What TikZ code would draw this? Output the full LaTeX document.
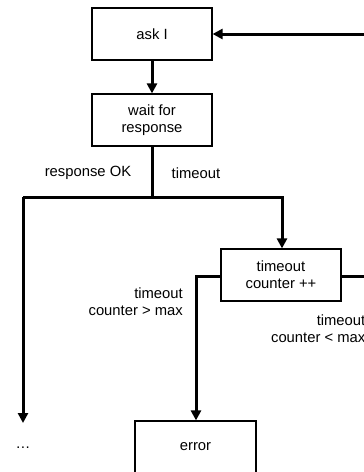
\documentclass[tikz,border=0pt]{standalone}
\usepackage{fontspec}
\setmainfont{Liberation Sans}
\usetikzlibrary{arrows.meta}
\begin{document}
\begin{tikzpicture}[x=1pt,y=-1pt,
  box/.style={draw, line width=1.2pt, minimum width=120pt, minimum height=52pt, inner sep=0pt, align=center, font=\fontsize{14.8}{17}\selectfont},
  lbl/.style={inner sep=0pt, font=\fontsize{14.8}{17}\selectfont},
  conn/.style={line width=3pt, -{Triangle[length=10pt,width=10pt]}},
  plain/.style={line width=3pt}]
\useasboundingbox (0,0) rectangle (364,472);
\node[box] (ask) at (152,34) {ask I};
\node[box] (wait) at (152,120) {wait for\\response};
\node[box] (cnt) at (281,275) {timeout\\counter ++};
\node[box, minimum width=121pt] (err) at (195.5,447) {error};
\coordinate (split) at (152,197);
\coordinate (sl) at (23,197);
\coordinate (sr) at (282,197);
\coordinate (ok) at (23,423);
\coordinate (cl) at (196,276);
\coordinate (cr) at (370,276);
\coordinate (crt) at (370,34);
\draw[plain] (wait.south) -- (split);
\draw[conn] (sl) -- (sr) -- (sr |- cnt.north);
\draw[conn] (sl) -- (ok);
\draw[conn] (ask.south) -- (wait.north);
\draw[conn] (cnt.west |- cl) -- (cl) -- (cl |- err.north);
\draw[conn] (cnt.east |- cr) -- (cr) -- (crt) -- (ask.east);
\node[lbl] (lok) at (88,173) {response OK};
\node[lbl] (lto) at (196,173) {timeout};
\node[lbl, align=right, anchor=east] (lgt) at (183,302) {timeout\\counter > max};
\node[lbl, align=right, anchor=east] (llt) at (365.5,329) {timeout\\counter < max};
\node[lbl] (dots) at (23,448) {…};
\end{tikzpicture}
\end{document}
